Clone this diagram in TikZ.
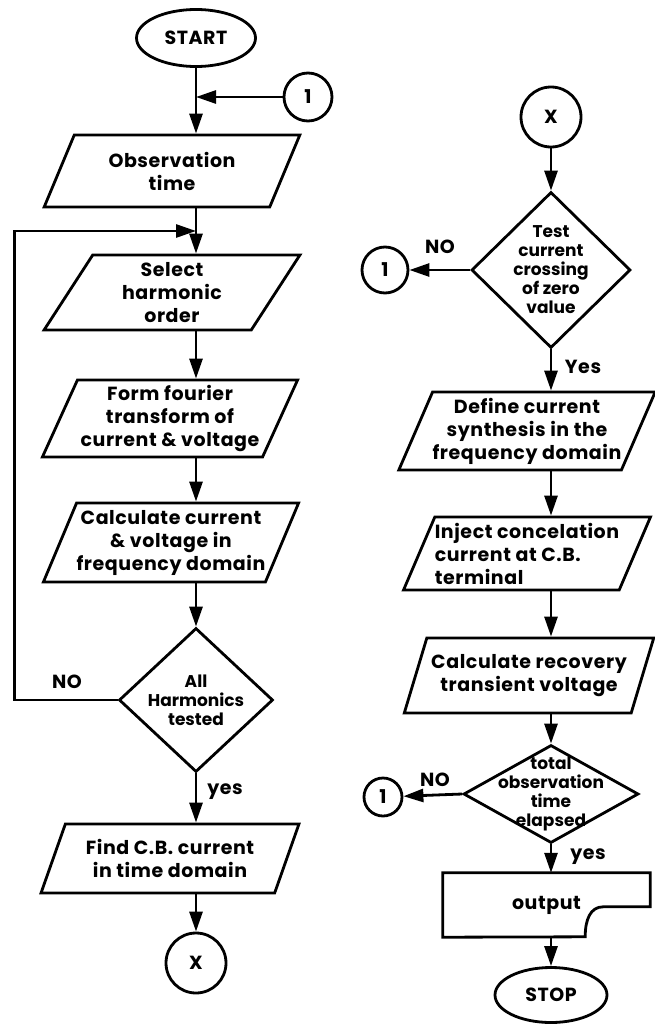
\documentclass[tikz,border=0pt]{standalone}
\usepackage{fontspec}
\setmainfont{Poppins}
\usetikzlibrary{shapes.geometric,arrows.meta,calc}
\newcommand{\flowfont}{\bfseries\fontsize{19}{23}\selectfont\addfontfeature{LetterSpace=3}}
\newcommand{\smallflowfont}{\bfseries\fontsize{17}{19}\selectfont}
\tikzset{
  line/.style={line width=2.8pt},
  flow/.style={line width=2.8pt, -{Triangle[length=20pt,width=13pt]}},
  io/.style={trapezium, trapezium left angle=63, trapezium right angle=117,
    trapezium stretches=true, draw, line width=2.8pt, inner sep=0pt,
    align=center, font=\flowfont},
  term/.style={ellipse, draw, line width=2.8pt, inner sep=0pt, font=\flowfont},
  conn/.style={circle, draw, line width=2.8pt, inner sep=0pt, font=\flowfont},
  test/.style={diamond, draw, line width=2.8pt, inner sep=0pt},
  dtext/.style={align=center, font=\smallflowfont},
  lbl/.style={font=\flowfont}
}
\begin{document}
\begin{tikzpicture}[x=1pt, y=-1pt]
  \useasboundingbox (0,0) rectangle (654,1025);
  \node[term, minimum width=119pt, minimum height=57pt] (start) at (196,38) {START};
  \node[conn, minimum size=48pt] (one) at (308,97) {1};
  \node[io, minimum width=256pt, minimum height=72pt] (obs) at (172,171) {Observation\\time};
  \node[io, minimum width=256pt, minimum height=75pt] (sel) at (172,292.5) {Select\\harmonic\\order};
  \node[io, minimum width=256pt, minimum height=77pt] (form) at (170,418.5) {Form fourier\\transform of\\current \& voltage};
  \node[io, minimum width=256pt, minimum height=79pt] (calc) at (171,542.5) {Calculate current\\\& voltage in\\frequency domain};
  \node[test, minimum width=154pt, minimum height=144pt,
    label={[dtext]center:All\\Harmonics\\tested}] (harm) at (196,700) {};
  \node[io, minimum width=258pt, minimum height=69pt] (find) at (170,858.5) {Find C.B. current\\in time domain};
  \node[conn, minimum size=60pt] (xa) at (196,963) {X};

  \node[conn, minimum size=60pt] (xb) at (551,117) {X};
  \node[test, minimum width=159pt, minimum height=156pt,
    label={[dtext]center:Test\\current\\crossing\\of zero\\value}] (zero) at (551,270) {};
  \node[conn, minimum size=46pt] (oneb) at (385,270) {1};
  \node[io, minimum width=248pt, minimum height=78pt] (synth) at (527,431) {Define current\\synthesis in the\\frequency domain};
  \node[io, minimum width=246pt, minimum height=73pt, align=left] (inj) at (527,553.5) {Inject concelation\\current at C.B.\\terminal};
  \node[io, minimum width=250pt, minimum height=75pt] (rec) at (529,675.5) {Calculate recovery\\transient voltage};
  \node[test, minimum width=175pt, minimum height=98pt,
    label={[dtext]center:total\\observation\\time\\elapsed}] (elapsed) at (551,794) {};
  \node[conn, minimum size=38pt] (onec) at (383,797) {1};
  \node[minimum width=207pt, minimum height=64pt, font=\flowfont] (out) at (546.5,905) {output};
  \node[term, minimum width=112pt, minimum height=55pt] (stop) at (551,995) {STOP};

  \draw[line] (out.south west) |- (out.north east) -- ++(0,34) -- ++(-47,0)
    .. controls +(-13,0) and +(0,-17) .. ++(-18,30) -- cycle;

  \coordinate (j1) at (start |- one);
  \coordinate (j2) at (196,231);
  \draw[flow] (start) -- (start |- obs.north);
  \draw[flow] (one) -- (j1);
  \draw[flow] (obs.south -| start) -- (sel.north -| start);
  \draw[flow] (sel.south -| start) -- (form.north -| start);
  \draw[flow] (form.south -| start) -- (calc.north -| start);
  \draw[flow] (calc.south -| start) -- (harm.north);
  \draw[flow] (harm.south) -- (harm.south |- find.north);
  \draw[flow] (find.south -| xa) -- (xa);
  \draw[flow] (harm.west) -- ++(-103,0) |- (j2);
  \node[lbl] at (67,682) {NO};
  \node[lbl] at (225,792) {yes};

  \draw[flow] (xb) -- (zero.north);
  \draw[flow] (zero.west) -- (oneb);
  \draw[flow] (zero.south) -- (zero.south |- synth.north);
  \draw[flow] (synth.south -| zero) -- (inj.north -| zero);
  \draw[flow] (inj.south -| zero) -- (rec.north -| zero);
  \draw[flow] (rec.south -| zero) -- (elapsed.north);
  \draw[flow] (elapsed.west) -- (onec);
  \draw[flow] (elapsed.south) -- (out.north -| elapsed);
  \draw[flow] (out.south -| stop) -- (stop);
  \node[lbl] at (440,247) {NO};
  \node[lbl] at (583,367) {Yes};
  \node[lbl] at (435,780) {NO};
  \node[lbl] at (588,857) {yes};
\end{tikzpicture}
\end{document}
